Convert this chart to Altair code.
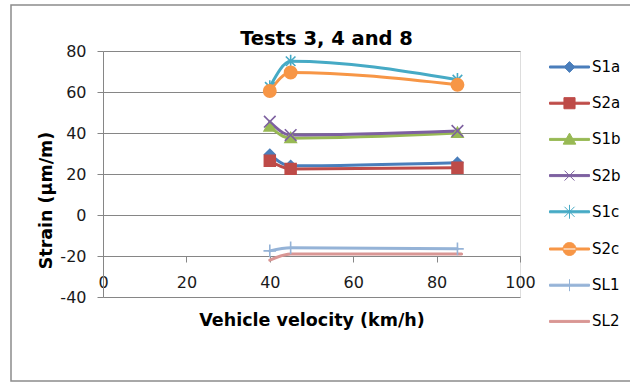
import altair as alt
import pandas as pd

# ---------------- data ----------------
series = ["S1a", "S2a", "S1b", "S2b", "S1c", "S2c", "SL1", "SL2"]
colors = ["#4A7EBB", "#BE4B48", "#98B954", "#7D60A0", "#46AAC5", "#F79646", "#95B3D7", "#D99694"]

speed = [40, 45, 85]
speed_sl2 = [40, 45, 86]

s1a = [29.5, 24.0, 25.5]
s2a = [26.5, 22.5, 23.0]
s1b = [43.0, 37.5, 40.0]
s2b = [45.5, 39.0, 41.0]
s1c = [62.5, 75.0, 66.0]
s2c = [60.5, 69.5, 63.5]
sl1 = [-17.5, -16.0, -16.5]
sl2 = [-22.0, -19.0, -19.0]

x_ticks = [0, 20, 40, 60, 80, 100]
y_ticks = [-40, -20, 0, 20, 40, 60, 80]

values = [s1a, s2a, s1b, s2b, s1c, s2c, sl1, sl2]
rows = []
for k, (name, vals) in enumerate(zip(series, values)):
    xs = speed_sl2 if name == "SL2" else speed
    for i, (x, v) in enumerate(zip(xs, vals)):
        rows.append({"series": name, "order": k, "i": i, "speed": x, "strain": v})
df = pd.DataFrame(rows)
df_pts = df[df.series != "SL2"]
df_leg = pd.DataFrame({"series": series, "order": list(range(len(series)))})

# ---------------- marker shapes ----------------
DIAMOND = "M0,-1L1,0L0,1L-1,0Z"
SQUARE = "M-1,-1L1,-1L1,1L-1,1Z"
TRIANGLE = "M0,-1L1,0.75L-1,0.75Z"
XMARK = "M-1,-1L1,1M-1,1L1,-1"
ASTER = "M-0.8,-0.8L0.8,0.8M-0.8,0.8L0.8,-0.8M0,-1.1L0,1.1"
CIRCLE = "M-1,0A1,1 0 1,0 1,0A1,1 0 1,0 -1,0Z"
PLUS = "M0,-1L0,1M-1,0L1,0"
pt_series = series[:-1]
pt_shapes = [DIAMOND, SQUARE, TRIANGLE, XMARK, ASTER, CIRCLE, PLUS]
pt_sizes = [110, 160, 170, 180, 200, 225, 170]


def scale_path(path, f):
    out, num = "", ""
    for ch in path + " ":
        if ch.isdigit() or ch == "." or (ch == "-" and not num):
            num += ch
        else:
            if num:
                out += str(round(float(num) * f, 3))
                num = ""
            if ch == "-":
                num = "-"
            elif ch != " ":
                out += ch
    return out


# legend symbols: line + marker in one path (unit = 15 px)
LINE = "M-1.333,-0.067L1.333,-0.067L1.333,0.067L-1.333,0.067Z"
leg_shapes = [
    LINE + scale_path(DIAMOND, 0.36),
    LINE + scale_path(SQUARE, 0.37),
    LINE + scale_path(TRIANGLE, 0.42),
    LINE + scale_path(XMARK, 0.33),
    LINE + scale_path(ASTER, 0.42),
    LINE + "M-0.433,0A0.433,0.433 0 1,0 0.433,0A0.433,0.433 0 1,0 -0.433,0Z",
    LINE + "M0,-0.4L0,0.4",
    LINE,
]

W, H = 417, 246
FONT = "DejaVu Sans"
GREY = "#868686"
ymin, ymax = -40, 80
xaxis_offset = -H * (-20 - ymin) / (ymax - ymin)

# ---------------- layers ----------------
border = alt.Chart(df_leg).mark_rect(fill=None, stroke="#8C8C8C", strokeWidth=1.5).encode(
    x=alt.value(-92), x2=alt.value(540), y=alt.value(-46), y2=alt.value(330)
).transform_filter("datum.order == 0")

x_enc = alt.X("speed:Q", scale=alt.Scale(domain=[0, 100], nice=False),
              axis=alt.Axis(values=x_ticks, grid=False, offset=xaxis_offset, tickSize=6,
                            labelPadding=12, labelFlush=False, domainColor=GREY, tickColor=GREY,
                            labelExpr="'' + datum.value",
                            labelFont=FONT, labelFontSize=16, labelColor="#1a1a1a",
                            title="Vehicle velocity (km/h)", titleFont=FONT, titleFontSize=17.5,
                            titleFontWeight="bold", titleColor="#000", titleBaseline="alphabetic",
                            titleY=69))
y_enc = alt.Y("strain:Q", scale=alt.Scale(domain=[ymin, ymax], nice=False),
              axis=alt.Axis(values=y_ticks, grid=True, gridColor=GREY, domainColor=GREY,
                            tickColor=GREY, tickSize=6, labelPadding=11,
                            labelExpr="'' + datum.value",
                            labelFont=FONT, labelFontSize=16, labelColor="#1a1a1a",
                            title="Strain (μm/m)", titleFont=FONT, titleFontSize=17.5,
                            titleFontWeight="bold", titleColor="#000", titleBaseline="middle",
                            titleX=-57, titleY=149, titleAngle=270))

lines = alt.Chart(df).mark_line(strokeWidth=3, interpolate="monotone", strokeCap="round",
                                strokeJoin="round").encode(
    x=x_enc, y=y_enc,
    color=alt.Color("series:N", scale=alt.Scale(domain=series, range=colors), legend=None),
    detail="series:N",
    order="i:Q",
)

points = alt.Chart(df_pts).mark_point(filled=False, strokeWidth=1.6, opacity=1).encode(
    x="speed:Q", y="strain:Q",
    shape=alt.Shape("series:N", scale=alt.Scale(domain=pt_series, range=pt_shapes), legend=None),
    fill=alt.Fill("series:N", scale=alt.Scale(domain=pt_series, range=colors[:-1]), legend=None),
    stroke=alt.Stroke("series:N", scale=alt.Scale(domain=pt_series, range=colors[:-1]), legend=None),
    size=alt.Size("series:N", scale=alt.Scale(domain=pt_series, range=pt_sizes), legend=None),
    order="order:Q",
)

legend_layer = alt.Chart(df_leg).mark_point(filled=False).encode(
    x=alt.value(0), y=alt.value(0),
    opacity=alt.value(0),
    shape=alt.Shape("series:N", scale=alt.Scale(domain=series, range=leg_shapes),
                    legend=alt.Legend(orient="none", legendX=451, legendY=0.5, title=None,
                                      symbolSize=900, symbolStrokeWidth=1, symbolOpacity=1,
                                      labelFont=FONT, labelFontSize=15, labelColor="#000",
                                      labelOffset=7, rowPadding=12.2, padding=0)),
    fill=alt.Fill("series:N", scale=alt.Scale(domain=series, range=colors)),
    stroke=alt.Stroke("series:N", scale=alt.Scale(domain=series, range=colors)),
)

chart = alt.layer(border, lines, points, legend_layer).resolve_scale(
    shape="independent", fill="independent", stroke="independent", size="independent"
).properties(
    width=W, height=H,
    title=alt.TitleParams("Tests 3, 4 and 8", font=FONT, fontSize=19.5, fontWeight="bold",
                          color="#000", anchor="middle", dx=15, offset=-60, baseline="alphabetic"),
    autosize=alt.AutoSizeParams(type="none"),
    padding={"left": 103, "top": 51, "right": 110, "bottom": 85},
).configure_view(stroke=None).configure(background="white")

chart.save("out.html", embed_options={"renderer": "svg", "actions": False})
